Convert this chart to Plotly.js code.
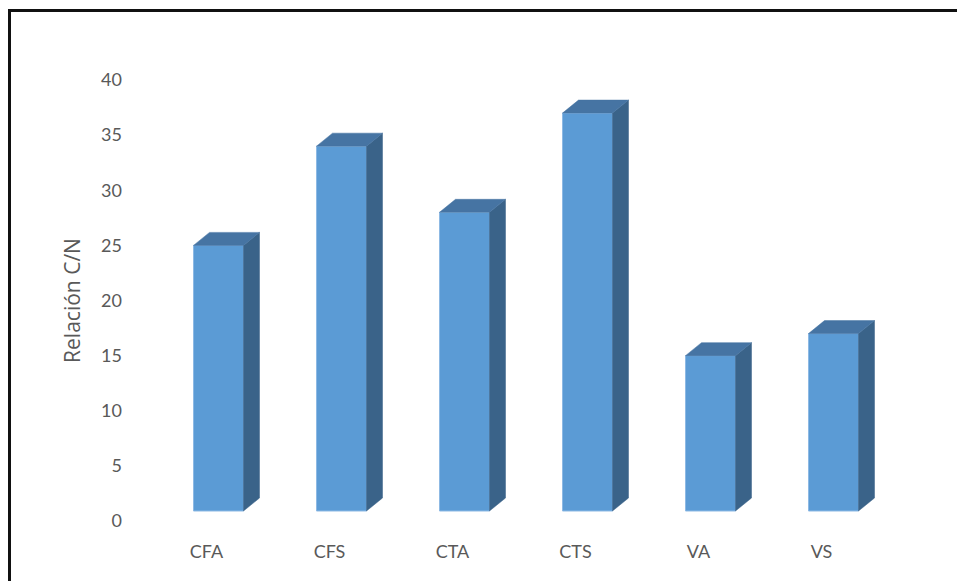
<!DOCTYPE html>
<html>
<head>
<meta charset="utf-8">
<script src="https://cdn.plot.ly/plotly-3.0.1.min.js"></script>
<style>
html,body{margin:0;padding:0;background:#fff;}
#wrap{position:relative;width:957px;height:581px;overflow:hidden;}
#chart{position:absolute;left:0;top:0;width:957px;height:581px;}
#frame{position:absolute;left:8px;top:9px;width:1000px;height:700px;border-top:3px solid #111;border-left:3px solid #111;pointer-events:none;box-sizing:border-box;}
</style>
</head>
<body>
<div id="wrap"><div id="chart"></div><div id="frame"></div></div>
<script>
// Data
const categories = ["CFA", "CFS", "CTA", "CTS", "VA", "VS"];
const values = [25, 34, 28, 37, 15, 17];
const yTickVals = [0, 5, 10, 15, 20, 25, 30, 35, 40];
const yTitle = "Relación C/N";

// Style / geometry (pixel based, converted through the axis scales)
const L = 157, PW = 738, T = 80, PH = 441;
const yMax = 40;
const pxPerX = PW / categories.length;      // px per category unit
const pxPerY = PH / yMax;                   // px per y unit
const barW = 50 / pxPerX;                   // front face width in x units
const depthX = 16 / pxPerX;                 // 3D depth offset in x units
const depthY = 13 / pxPerY;                 // 3D depth offset in y units
const floorY = 10 / pxPerY;                 // front floor offset

const idx = categories.map((c, i) => i);

// Top faces and side faces as polygons built from the data
const topX = [], topY = [], sideX = [], sideY = [];
idx.forEach(i => {
  const v = values[i];
  const xl = i - barW / 2, xr = i + barW / 2;
  topX.push(xl, xr, xr + depthX, xl + depthX, xl, null);
  topY.push(v, v, v + depthY, v + depthY, v, null);
  sideX.push(xr, xr, xr + depthX, xr + depthX, xr, null);
  sideY.push(floorY, v, v + depthY, floorY + depthY, floorY, null);
});

const traces = [
  {
    type: "bar",
    x: idx,
    y: values.map(v => v - floorY),
    base: values.map(() => floorY),
    width: barW,
    marker: {color: "#5B9BD5", line: {color: "#8DB9E4", width: 1}},
    hoverinfo: "skip",
    showlegend: false
  },
  {
    type: "scatter", mode: "lines", x: sideX, y: sideY,
    fill: "toself", fillcolor: "#3A6389",
    line: {color: "#3A6389", width: 0.5},
    hoverinfo: "skip", showlegend: false
  },
  {
    type: "scatter", mode: "lines", x: topX, y: topY,
    fill: "toself", fillcolor: "#4674A3",
    line: {color: "#4674A3", width: 0.5},
    hoverinfo: "skip", showlegend: false
  }
];

const font = {family: "Lato, 'Open Sans', sans-serif", size: 18, color: "#595959"};
const titleFont = {family: "'Open Sans', Lato, sans-serif", size: 21, color: "#595959"};

const layout = {
  width: 957, height: 581,
  margin: {l: L, r: 957 - L - PW, t: T, b: 581 - T - PH, pad: 0},
  paper_bgcolor: "#fff", plot_bgcolor: "#fff",
  showlegend: false,
  font: font,
  xaxis: {
    range: [-0.5, categories.length - 0.5],
    tickvals: idx, ticktext: categories,
    showgrid: false, zeroline: false, showline: false, ticks: "",
    ticklabelshift: -12, ticklabelstandoff: 18,
    tickfont: font, fixedrange: true
  },
  yaxis: {
    range: [0, yMax],
    tickvals: yTickVals,
    showgrid: false, zeroline: false, showline: false, ticks: "",
    ticklabelstandoff: 34,
    tickfont: font,
    title: {text: yTitle, font: titleFont, standoff: 14},
    fixedrange: true
  }
};

Plotly.newPlot("chart", traces, layout, {displayModeBar: false, staticPlot: true});
</script>
</body>
</html>
